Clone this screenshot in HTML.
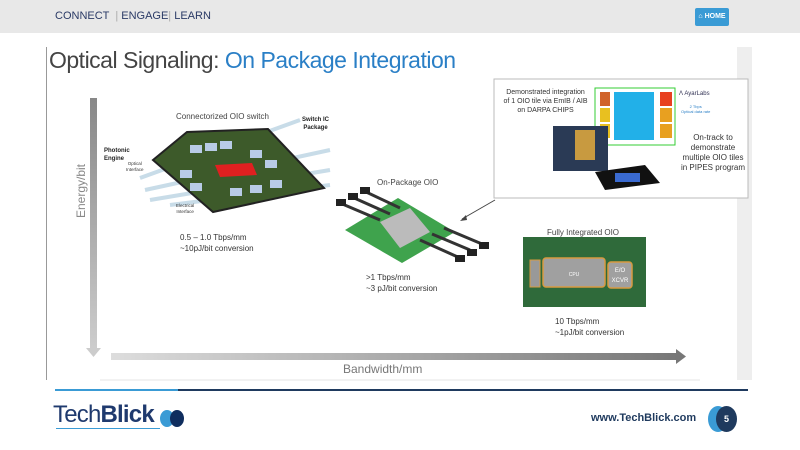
<!DOCTYPE html>
<html><head><meta charset="utf-8"><style>
body{margin:0;width:800px;height:450px;overflow:hidden;background:#fff;font-family:"Liberation Sans",sans-serif;position:relative}
.a{position:absolute;white-space:nowrap}
</style></head><body>
<div class="a" style="left:0;top:0;width:800px;height:33px;background:#e8e8e8"></div>
<div class="a" style="left:55px;top:10px;font-size:11px;color:#2a3a66">CONNECT &nbsp;<span style="color:#aaa">|</span> ENGAGE<span style="color:#aaa">|</span> LEARN</div>
<div class="a" style="left:695px;top:8px;width:34px;height:18px;background:#3a9bd5;border-radius:2px;color:#fff;font-size:7px;font-weight:bold;line-height:18px;text-align:center">&#8962; HOME</div>
<div class="a" style="left:46px;top:47px;width:1px;height:333px;background:#999"></div>
<div class="a" style="left:737px;top:47px;width:15px;height:333px;background:#eee"></div>
<div class="a" style="left:49px;top:47px;font-size:23px;color:#444;letter-spacing:-0.5px">Optical Signaling: <span style="color:#2a7fc6">On Package Integration</span></div>

<svg class="a" style="left:0;top:0" width="800" height="450">
<defs>
<linearGradient id="gv" x1="0" y1="0" x2="0" y2="1"><stop offset="0" stop-color="#888"/><stop offset="1" stop-color="#ccc"/></linearGradient>
<linearGradient id="gh" x1="0" y1="0" x2="1" y2="0"><stop offset="0" stop-color="#ddd"/><stop offset="1" stop-color="#777"/></linearGradient>
</defs>
<rect x="90" y="98" width="7" height="250" fill="url(#gv)"/>
<polygon points="86,348 101,348 93.5,357" fill="#ccc"/>
<rect x="111" y="353" width="566" height="7" fill="url(#gh)"/>
<polygon points="676,349 676,364 686,356.5" fill="#777"/>
<line x1="100" y1="380" x2="700" y2="380" stroke="#e4e4e4"/>
<g>
<line x1="140" y1="178" x2="300" y2="120" stroke="#c8dce8" stroke-width="4"/>
<line x1="145" y1="190" x2="330" y2="150" stroke="#c8dce8" stroke-width="4"/>
<line x1="150" y1="200" x2="330" y2="170" stroke="#c8dce8" stroke-width="4"/>
<line x1="170" y1="205" x2="330" y2="185" stroke="#c8dce8" stroke-width="4"/>
<polygon points="187,132 268,129 324,188 213,212 153,160" fill="#3d5a2a"/>
<polygon points="187,132 268,129 324,188 213,212 153,160" fill="none" stroke="#222" stroke-width="2"/>
<g fill="#b8cbe6"><rect x="190" y="145" width="12" height="8"/><rect x="205" y="143" width="12" height="8"/><rect x="220" y="141" width="12" height="8"/><rect x="250" y="150" width="12" height="8"/><rect x="265" y="160" width="12" height="8"/><rect x="180" y="170" width="12" height="8"/><rect x="190" y="183" width="12" height="8"/><rect x="230" y="188" width="12" height="8"/><rect x="250" y="185" width="12" height="8"/><rect x="270" y="180" width="12" height="8"/></g>
<polygon points="215,165 252,163 257,175 220,177" fill="#e02020"/>
</g>
<polygon points="345,230 398,198 455,232 402,263" fill="#3fa34d"/>
<polygon points="380,222 410,208 430,232 400,248" fill="#bbb"/>
<g stroke="#333" stroke-width="3"><line x1="340" y1="203" x2="380" y2="220"/><line x1="352" y1="197" x2="390" y2="214"/><line x1="364" y1="191" x2="400" y2="208"/><line x1="420" y1="240" x2="460" y2="258"/><line x1="432" y1="234" x2="470" y2="250"/><line x1="444" y1="228" x2="482" y2="244"/></g>
<g fill="#222"><rect x="336" y="199" width="10" height="7"/><rect x="348" y="193" width="10" height="7"/><rect x="360" y="187" width="10" height="7"/><rect x="455" y="255" width="10" height="7"/><rect x="467" y="249" width="10" height="7"/><rect x="479" y="242" width="10" height="7"/></g>
<line x1="495" y1="200" x2="462" y2="219" stroke="#444" stroke-width="1"/>
<polygon points="460,221 466,215 467,220" fill="#444"/>
<rect x="523" y="237" width="123" height="70" fill="#2f6a3a"/>
<rect x="530" y="260" width="10" height="27" fill="#999" stroke="#d89a40"/>
<rect x="543" y="258" width="62" height="29" rx="3" fill="#a0a0a0" stroke="#d89a40" stroke-width="1.5"/>
<rect x="608" y="262" width="24" height="26" rx="3" fill="#a0a0a0" stroke="#d89a40" stroke-width="1.5"/>
<text x="574" y="276" font-size="5" fill="#fff" text-anchor="middle">CPU</text>
<text x="620" y="272" font-size="6" fill="#fff" text-anchor="middle">E/O</text>
<text x="620" y="282" font-size="6" fill="#fff" text-anchor="middle">XCVR</text>
<rect x="494" y="79" width="254" height="119" fill="#fff" stroke="#bbb"/>
<rect x="595" y="88" width="80" height="57" fill="#fff" stroke="#3c3" stroke-width="1"/>
<rect x="600" y="92" width="10" height="14" fill="#d0632a"/>
<rect x="600" y="108" width="10" height="14" fill="#e8c020"/>
<rect x="600" y="124" width="10" height="14" fill="#e8c020"/>
<rect x="614" y="92" width="40" height="48" fill="#22b0e8"/>
<rect x="660" y="92" width="12" height="14" fill="#e84020"/>
<rect x="660" y="108" width="12" height="14" fill="#e8a020"/>
<rect x="660" y="124" width="12" height="14" fill="#e8a020"/>
<rect x="553" y="126" width="55" height="45" fill="#2a3a55"/>
<rect x="575" y="130" width="20" height="30" fill="#c89a40"/>
<polygon points="595,172 645,165 660,183 605,190" fill="#111"/>
<rect x="615" y="173" width="25" height="9" fill="#3a6ad0"/>
</svg>

<div class="a" style="left:498px;top:88px;font-size:7px;color:#333;line-height:9px;text-align:center;width:95px">Demonstrated integration<br>of 1 OIO tile via EmIB / AIB<br>on DARPA CHIPS</div>
<div class="a" style="left:679px;top:91px;font-size:6px;color:#335">&#923; AyarLabs</div>
<div class="a" style="left:681px;top:104px;font-size:4px;color:#2a7fc6;line-height:5px;text-align:center">2 Tbps<br>Optical data rate</div>
<div class="a" style="left:680px;top:133px;font-size:8px;color:#333;line-height:10px;text-align:center;width:66px;white-space:normal">On-track to demonstrate multiple OIO tiles in PIPES program</div>

<div class="a" style="left:176px;top:112px;font-size:8px;color:#444">Connectorized OIO switch</div>
<div class="a" style="left:302px;top:116px;font-size:6px;color:#222;font-weight:bold;line-height:8px;text-align:center">Switch IC<br>Package</div>
<div class="a" style="left:104px;top:147px;font-size:6px;color:#222;font-weight:bold;line-height:8px">Photonic<br>Engine</div>
<div class="a" style="left:126px;top:161px;font-size:4.5px;color:#333;line-height:6px;text-align:center">Optical<br>Interface</div>
<div class="a" style="left:176px;top:203px;font-size:4.5px;color:#333;line-height:6px;text-align:center">Electrical<br>Interface</div>
<div class="a" style="left:180px;top:232px;font-size:8px;color:#333;line-height:11px">0.5 – 1.0 Tbps/mm<br>~10pJ/bit conversion</div>
<div class="a" style="left:377px;top:178px;font-size:8px;color:#444">On-Package OIO</div>
<div class="a" style="left:366px;top:272px;font-size:8px;color:#333;line-height:11px">&gt;1 Tbps/mm<br>~3 pJ/bit conversion</div>
<div class="a" style="left:547px;top:228px;font-size:8px;color:#444">Fully Integrated OIO</div>
<div class="a" style="left:555px;top:316px;font-size:8px;color:#333;line-height:11px">10 Tbps/mm<br>~1pJ/bit conversion</div>
<div class="a" style="left:46px;top:184px;font-size:12px;color:#888;transform:rotate(-90deg);transform-origin:center;width:70px;text-align:center">Energy/bit</div>
<div class="a" style="left:343px;top:362px;font-size:12px;color:#777">Bandwidth/mm</div>

<div class="a" style="left:55px;top:389px;width:123px;height:2px;background:#3a9bd5"></div>
<div class="a" style="left:178px;top:389px;width:570px;height:2px;background:#1f3a5e"></div>
<div class="a" style="left:53px;top:401px;font-size:24px;color:#1f3a6e;letter-spacing:-0.8px">Tech<b>Blick</b></div>
<div class="a" style="left:56px;top:428px;width:104px;height:1px;background:#3a9bd5"></div>
<div class="a" style="left:160px;top:410px;width:14px;height:17px;border-radius:50%;background:#3a9bd5"></div>
<div class="a" style="left:170px;top:410px;width:14px;height:17px;border-radius:50%;background:#0f2d5e"></div>
<div class="a" style="left:591px;top:412px;font-size:11px;font-weight:bold;color:#1f3a5e">www.TechBlick.com</div>
<div class="a" style="left:708px;top:406px;width:20px;height:26px;border-radius:50%;background:#3a9bd5"></div>
<div class="a" style="left:716px;top:406px;width:21px;height:26px;border-radius:50%;background:#1f3a5e;color:#fff;font-size:9px;font-weight:bold;text-align:center;line-height:26px">5</div>
</body></html>
